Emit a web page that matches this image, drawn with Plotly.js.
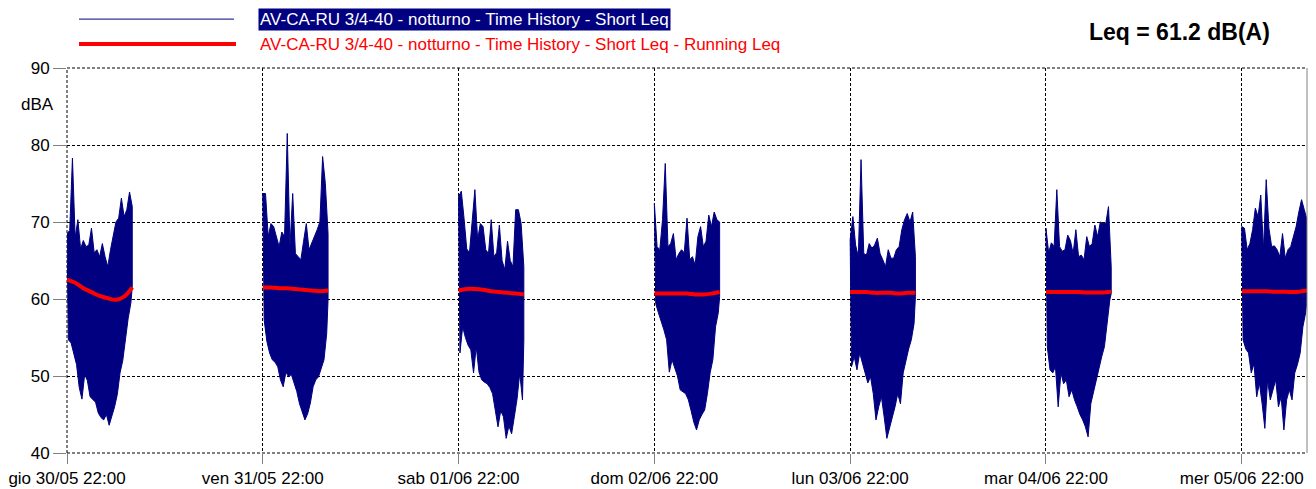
<!DOCTYPE html>
<html>
<head>
<meta charset="utf-8">
<script src="https://cdn.plot.ly/plotly-3.0.1.min.js"></script>
<style>
html,body{margin:0;padding:0;background:#fff;}
#chart{width:1316px;height:489px;}
</style>
</head>
<body>
<div id="chart"></div>
<script>
// ---- data ----
const nightStarts = ['2024-05-30','2024-05-31','2024-06-01','2024-06-02','2024-06-03','2024-06-04','2024-06-05'];
const tickLabels = ['gio 30/05 22:00','ven 31/05 22:00','sab 01/06 22:00','dom 02/06 22:00','lun 03/06 22:00','mar 04/06 22:00','mer 05/06 22:00'];
const legendShort = 'AV-CA-RU 3/4-40 - notturno - Time History - Short Leq';
const legendRunning = 'AV-CA-RU 3/4-40 - notturno - Time History - Short Leq - Running Leq';
const leqTotal = 'Leq = 61.2 dB(A)';
const yUnit = 'dBA';

// Short Leq: local maxima every 20 min (22:00 -> 06:00), per night
const shortLeqPeaks = [
  [68.5,68.9,78.3,68.0,70.3,66.5,67.6,66.8,67.0,69.2,66.0,66.4,65.5,67.2,65.5,64.2,66.4,68.1,70.0,70.5,73.1,70.7,71.6,73.9,72.0],
  [73.7,73.7,68.1,69.8,69.4,68.1,66.8,68.7,68.1,81.5,66.8,73.7,65.9,65.5,65.1,67.5,69.8,66.4,67.2,68.1,69.0,70.0,78.5,75.0,68.5],
  [73.3,74.0,70.5,66.5,66.0,70.7,74.2,67.7,69.8,69.4,66.4,65.9,70.3,65.5,66.0,69.6,65.0,63.8,67.5,65.0,64.2,71.6,71.6,69.8,64.2],
  [72.4,66.8,66.4,70.3,77.6,66.8,67.2,68.5,65.1,65.9,66.4,66.0,70.5,65.1,65.5,64.4,68.1,69.4,66.8,67.5,70.9,69.4,71.3,70.3,70.0],
  [67.7,70.7,67.0,65.5,78.1,65.9,65.7,67.2,66.6,67.0,67.9,65.9,65.1,64.2,66.4,65.3,65.3,66.4,66.8,69.0,70.3,71.1,70.0,71.3,65.5],
  [69.2,66.0,67.3,66.8,74.2,66.8,66.2,66.4,68.3,67.6,65.9,69.0,65.5,65.7,65.1,68.1,66.8,67.2,69.6,68.1,70.0,69.8,69.8,72.0,64.2],
  [69.4,69.2,66.4,67.2,69.0,71.8,70.7,73.5,66.4,75.5,69.2,66.8,66.9,66.4,65.5,68.5,65.3,66.4,66.8,68.1,69.4,71.3,72.9,71.6,70.3]
];
// Short Leq: local minima every 20 min, per night
const shortLeqDips = [
  [54.7,54.3,53.0,51.5,48.5,47.0,50.2,49.4,47.3,47.0,46.6,45.2,44.6,44.3,45.0,43.6,44.8,46.0,47.6,50.4,52.0,54.7,57.5,59.5,61.6],
  [57.3,54.5,53.0,52.1,51.8,51.2,49.5,48.6,50.5,49.9,50.2,49.0,48.0,46.4,45.5,44.3,45.1,46.5,48.6,49.5,49.9,51.0,52.1,55.5,59.9],
  [53.0,56.4,55.0,54.0,53.4,50.4,53.8,50.5,49.5,49.2,49.0,48.5,47.7,45.5,43.4,45.5,44.7,41.9,43.5,42.5,44.7,47.0,50.4,46.9,54.7],
  [59.4,58.2,57.0,56.0,54.7,50.5,52.1,51.2,50.0,48.2,48.0,47.7,46.9,45.5,44.0,43.0,44.3,45.0,45.6,47.7,50.4,52.1,56.4,58.2,60.3],
  [51.2,52.5,50.8,53.0,51.5,50.4,49.1,49.9,47.7,44.3,46.0,47.3,44.7,41.9,43.4,44.5,46.0,47.7,46.4,50.4,52.0,53.5,54.7,56.8,60.3],
  [53.8,50.8,50.4,51.2,46.0,50.4,49.0,49.5,47.3,48.2,46.9,46.0,45.0,44.3,43.4,42.1,46.4,47.7,49.1,51.0,52.5,53.8,56.4,59.9,60.7],
  [54.7,53.5,53.0,50.4,51.6,47.3,49.1,46.4,43.2,49.5,46.9,48.2,49.5,46.0,47.3,43.0,46.9,48.2,46.9,50.4,51.5,53.0,56.4,58.2,59.9]
];
// Running Leq: hourly values 22:00 -> 06:00, per night
const runningLeq = [
  [62.5,62.1,61.4,60.9,60.4,60.1,59.9,60.3,61.5],
  [61.5,61.5,61.4,61.4,61.3,61.2,61.1,61.0,61.1],
  [61.1,61.3,61.3,61.2,61.0,60.9,60.8,60.7,60.6],
  [60.7,60.7,60.7,60.7,60.7,60.6,60.6,60.7,60.9],
  [60.9,60.9,60.9,60.8,60.8,60.8,60.7,60.8,60.8],
  [60.9,60.9,60.9,60.9,60.9,60.85,60.85,60.85,60.95],
  [61.0,61.0,61.0,61.0,60.95,60.95,60.9,60.95,61.1]
];

// ---- build traces ----
function stamp(dateStr, minutes){
  const p = dateStr.split('-').map(Number);
  const d = new Date(Date.UTC(p[0], p[1]-1, p[2], 22, 0) + minutes*60000);
  return d.toISOString().slice(0,19).replace('T',' ');
}
const NIGHT_MIN = 480;
const bx = [], by = [], rx = [], ry = [];
nightStarts.forEach((ds, i) => {
  const peaks = shortLeqPeaks[i], dips = shortLeqDips[i];
  const step = NIGHT_MIN / (peaks.length - 1);
  for (let k = 0; k < peaks.length; k++) { bx.push(stamp(ds, k*step)); by.push(peaks[k]); }
  for (let k = dips.length - 1; k >= 0; k--) {
    bx.push(stamp(ds, Math.min(k*step + step/2, NIGHT_MIN))); by.push(dips[k]);
  }
  bx.push(stamp(ds, 0)); by.push(peaks[0]);
  bx.push(null); by.push(null);
  const run = runningLeq[i];
  const rstep = NIGHT_MIN / (run.length - 1);
  run.forEach((v, k) => { rx.push(stamp(ds, k*rstep)); ry.push(v); });
  rx.push(null); ry.push(null);
});

const FONT = 'Liberation Sans, Arial, sans-serif';
const NAVY = '#000080';
const GRID = {color: '#000', width: 1, dash: '3px,2px'};
const traces = [
  {x: bx, y: by, type: 'scatter', mode: 'lines', fill: 'toself', fillcolor: NAVY,
   line: {color: NAVY, width: 1}, connectgaps: false, hoverinfo: 'skip', name: legendShort},
  {x: rx, y: ry, type: 'scatter', mode: 'lines', line: {color: '#ff0000', width: 4, shape: 'spline'},
   connectgaps: false, hoverinfo: 'skip', name: legendRunning}
];

const tickVals = nightStarts.map(ds => stamp(ds, 0));
const layout = {
  width: 1316, height: 489,
  margin: {l: 67, r: 9, t: 68, b: 36},
  paper_bgcolor: '#fff', plot_bgcolor: '#fff',
  showlegend: false,
  font: {family: FONT, size: 17, color: '#000'},
  xaxis: {
    type: 'date',
    range: [stamp(nightStarts[0], 0), stamp('2024-06-06', -960)],
    tickmode: 'array', tickvals: tickVals, ticktext: tickLabels,
    ticks: 'outside', ticklen: 10, tickcolor: '#808080', tickwidth: 1,
    showgrid: true, gridcolor: '#000', gridwidth: 1, griddash: '3px,2px',
    showline: false, zeroline: false,
    tickfont: {family: FONT, size: 17, color: '#000'}
  },
  yaxis: {
    range: [40, 90], dtick: 10, tick0: 40,
    ticks: 'outside', ticklen: 13, tickcolor: '#808080', tickwidth: 1,
    showgrid: true, gridcolor: '#000', gridwidth: 1, griddash: '3px,2px',
    showline: false, zeroline: false,
    tickfont: {family: FONT, size: 17, color: '#000'}
  },
  shapes: [
    {type: 'line', xref: 'paper', yref: 'paper', x0: 0, x1: 1, y0: 1, y1: 1, line: GRID, layer: 'below'},
    {type: 'line', xref: 'paper', yref: 'paper', x0: 0, x1: 1, y0: 0, y1: 0, line: GRID, layer: 'below'},
    {type: 'line', xref: 'paper', yref: 'paper', x0: 0, x1: 0, y0: 0, y1: 1, line: GRID, layer: 'below'},
    {type: 'line', xref: 'paper', yref: 'paper', x0: 1, x1: 1, y0: 0, y1: 1, line: {color: '#808080', width: 1}},
    {type: 'line', xref: 'paper', yref: 'paper', x0: 0.0097, x1: 0.1347, y0: 1.127, y1: 1.127, line: {color: NAVY, width: 1}},
    {type: 'line', xref: 'paper', yref: 'paper', x0: 0.0097, x1: 0.1363, y0: 1.0623, y1: 1.0623, line: {color: '#ff0000', width: 4}}
  ],
  annotations: [
    {xref: 'paper', yref: 'paper', x: 0.154, y: 1.127, xanchor: 'left', yanchor: 'middle', showarrow: false,
     text: legendShort, bgcolor: NAVY, borderpad: 1, font: {family: FONT, size: 17, color: '#fff'}},
    {xref: 'paper', yref: 'paper', x: 0.154, y: 1.0623, xanchor: 'left', yanchor: 'middle', showarrow: false,
     text: legendRunning, font: {family: FONT, size: 17, color: '#ff0000'}},
    {xref: 'paper', yref: 'paper', x: 0.8968, y: 1.0935, xanchor: 'center', yanchor: 'middle', showarrow: false,
     text: '<b>' + leqTotal + '</b>', font: {family: FONT, size: 23, color: '#000'}},
    {xref: 'paper', yref: 'paper', x: -0.024, y: 0.906, xanchor: 'center', yanchor: 'middle', showarrow: false,
     text: yUnit, font: {family: FONT, size: 17, color: '#000'}}
  ]
};
Plotly.newPlot('chart', traces, layout, {staticPlot: true, displayModeBar: false});
</script>
</body>
</html>
